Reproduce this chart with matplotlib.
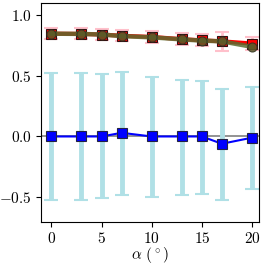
import matplotlib
matplotlib.use('Agg')
import matplotlib.pyplot as plt
import numpy as np

plt.rcParams['font.family'] = 'serif'
plt.rcParams['font.serif'] = ['cmr10']
plt.rcParams['mathtext.fontset'] = 'cm'
plt.rcParams['axes.formatter.use_mathtext'] = True
plt.rcParams['font.size'] = 11

# angles
alpha = [0, 3, 5, 7, 10, 13, 15, 17, 20]

# upper series (red squares / olive circles)
red_vals = [0.845, 0.843, 0.838, 0.828, 0.818, 0.800, 0.790, 0.782, 0.764]
olive_vals = [0.845, 0.843, 0.838, 0.825, 0.815, 0.798, 0.788, 0.782, 0.737]
red_err = [0.043, 0.045, 0.045, 0.045, 0.05, 0.05, 0.05, 0.08, 0.05]

# lower series (blue squares) and its spread
blue_vals = [0.0, 0.0, 0.0, 0.03, 0.0, 0.0, 0.0, -0.06, -0.01]
blue_top = [0.52, 0.52, 0.515, 0.534, 0.49, 0.466, 0.458, 0.39, 0.407]
blue_bot = [-0.52, -0.52, -0.51, -0.48, -0.50, -0.48, -0.47, -0.52, -0.43]

fig, ax = plt.subplots(figsize=(2.67, 2.67), dpi=100)

ax.axhline(0, color='gray', lw=1.2, zorder=1)

bv = np.array(blue_vals)
yerr = [bv - np.array(blue_bot), np.array(blue_top) - bv]
ax.errorbar(alpha, blue_vals, yerr=yerr, fmt='none', ecolor='powderblue',
            elinewidth=3.5, capsize=5, capthick=1.5, zorder=2)
ax.plot(alpha, blue_vals, color='blue', lw=1.5, marker='s', ms=6.5,
        mfc='blue', mec='#222244', mew=0.8, zorder=4)

ax.errorbar(alpha, red_vals, yerr=red_err, fmt='none', ecolor='pink',
            elinewidth=2, capsize=5, capthick=1.5, zorder=2)
ax.plot(alpha, red_vals, color='red', lw=3, marker='s', ms=7,
        mfc='red', mec='#331111', mew=0.8, zorder=3)
ax.plot(alpha, olive_vals, color='#5b6b2f', lw=3.2, alpha=0.85, marker='o', ms=6.5,
        mfc='#5a5a28', mec='#333322', mew=0.8, zorder=4)

ax.set_xlim(-1, 20.7)
ax.set_ylim(-0.7, 1.1)
ax.set_xticks([0, 5, 10, 15, 20])
ax.set_yticks([-0.5, 0.0, 0.5, 1.0])
ax.set_xlabel(r'$\alpha$ ($^\circ$)', labelpad=-1)

plt.subplots_adjust(left=0.155, right=0.97, top=0.99, bottom=0.17)
plt.savefig('out.png', dpi=100)
plt.close()
